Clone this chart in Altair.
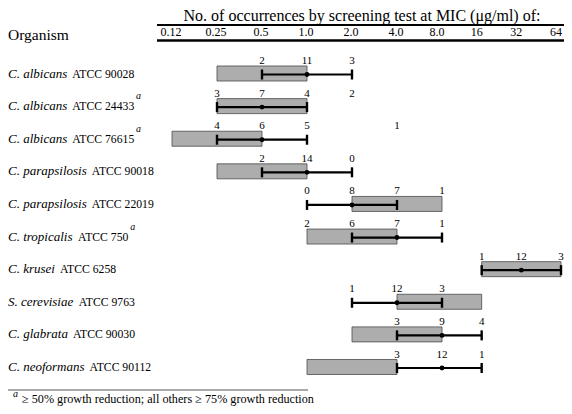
import altair as alt
import pandas as pd

# ---------------- data ----------------
mic_levels = [0.125, 0.25, 0.5, 1, 2, 4, 8, 16, 32, 64]
mic_labels = ["0.12", "0.25", "0.5", "1.0", "2.0", "4.0", "8.0", "16", "32", "64"]

species = ["C. albicans", "C. albicans", "C. albicans", "C. parapsilosis", "C. parapsilosis",
           "C. tropicalis", "C. krusei", "S. cerevisiae", "C. glabrata", "C. neoformans"]
strains = ["ATCC 90028", "ATCC 24433", "ATCC 76615", "ATCC 90018", "ATCC 22019",
           "ATCC 750", "ATCC 6258", "ATCC 9763", "ATCC 90030", "ATCC 90112"]
footnote_a = [False, True, True, False, False, True, False, False, False, False]

box_lo = [0.25, 0.25, 0.125, 0.25, 2, 1, 16, 4, 2, 1]
box_hi = [1, 1, 0.5, 1, 8, 4, 64, 16, 8, 4]
range_lo = [0.5, 0.25, 0.25, 0.5, 1, 2, 16, 2, 4, 4]
range_mode = [1, 0.5, 0.5, 1, 2, 4, 32, 4, 8, 8]
range_hi = [2, 1, 1, 2, 4, 8, 64, 8, 16, 16]

count_mic = [[0.5, 1, 2], [0.25, 0.5, 1, 2], [0.25, 0.5, 1, 4], [0.5, 1, 2], [1, 2, 4, 8],
             [1, 2, 4, 8], [16, 32, 64], [2, 4, 8], [4, 8, 16], [4, 8, 16]]
count_n = [[2, 11, 3], [3, 7, 4, 2], [4, 6, 5, 1], [2, 14, 0], [0, 8, 7, 1],
           [2, 6, 7, 1], [1, 12, 3], [1, 12, 3], [3, 9, 4], [3, 12, 1]]

title_text = "No. of occurrences by screening test at MIC (\u03bcg/ml) of:"
footnote_text = "\u2265 50% growth reduction; all others \u2265 75% growth reduction"

# ---------------- layout helpers ----------------
FONT = "Liberation Serif"
SP_SIZE = 13
ST_SIZE = 11.7
ITALIC = {' ': 250, '.': 250, 'C': 667, 'S': 500, 'a': 500, 'b': 500, 'c': 444, 'd': 500,
          'e': 444, 'f': 278, 'g': 500, 'h': 500, 'i': 278, 'k': 444, 'l': 278, 'm': 722,
          'n': 500, 'o': 500, 'p': 500, 'r': 389, 's': 389, 't': 278, 'u': 500, 'v': 444, 'y': 444}
ROMAN = {' ': 250, 'A': 722, 'T': 611, 'C': 667}


def width(s, table, size):
    return sum(table.get(ch, 500) for ch in s) * size / 1000.0


rows = list(range(len(species)))
lab = pd.DataFrame({"row": rows, "species": species, "strain": strains, "sup": footnote_a})
lab["strain_x"] = [width(s, ITALIC, SP_SIZE) + 5 for s in species]
lab["sup_x"] = [lab["strain_x"][i] + width(strains[i], ROMAN, ST_SIZE) + 0.5 for i in rows]
lab_sup = lab[lab["sup"]].copy()
lab_sup["a"] = "a"

boxes = pd.DataFrame({"row": rows, "lo": box_lo, "hi": box_hi})
boxes["y_top"] = boxes["row"] - 0.23
boxes["y_bot"] = boxes["row"] + 0.23

ranges = pd.DataFrame({"row": rows, "lo": range_lo, "mode": range_mode, "hi": range_hi})
ends = pd.DataFrame({"row": rows * 2, "mic": range_lo + range_hi})

counts = pd.DataFrame([
    {"row": r, "mic": m, "n": str(n)}
    for r in rows for m, n in zip(count_mic[r], count_n[r])
])

ticks = pd.DataFrame({"mic": mic_levels, "label": mic_labels})
ticks_lo = ticks[ticks["mic"] < 8]
ticks_hi = ticks[ticks["mic"] >= 8]
one = pd.DataFrame({"k": [0]})

xs = alt.Scale(type="log", domain=[0.125, 8, 64], range=[164, 434, 553], nice=False)
ys = alt.Scale(domain=[0, 9], range=[65.5, 359], nice=False, zero=False)

X = lambda f: alt.X(f, type="quantitative", scale=xs, axis=None)
Y = lambda f: alt.Y(f, type="quantitative", scale=ys, axis=None)

box_layer = alt.Chart(boxes).mark_rect(fill="#adadad", stroke="#4a4a4a", strokeWidth=0.8).encode(
    x=X("lo"), x2="hi", y=Y("y_top"), y2="y_bot")

range_layer = alt.Chart(ranges).mark_rule(color="black", strokeWidth=2.2, yOffset=1).encode(
    x=X("lo"), x2="hi", y=Y("row"))

end_layer = alt.Chart(ends).mark_tick(color="black", orient="vertical", size=10, thickness=2.4,
                                      yOffset=1, opacity=1).encode(x=X("mic"), y=Y("row"))

dot_layer = alt.Chart(ranges).mark_circle(color="black", size=24, opacity=1, yOffset=1).encode(
    x=X("mode"), y=Y("row"))

count_layer = alt.Chart(counts).mark_text(font=FONT, fontSize=11, dy=-12.5, color="black").encode(
    x=X("mic"), y=Y("row"), text="n:N")

species_layer = alt.Chart(lab).mark_text(font=FONT, fontSize=SP_SIZE, fontStyle="italic",
                                         align="left", baseline="middle", color="black").encode(
    x=alt.value(0), y=Y("row"), text="species:N")

strain_layer = alt.Chart(lab).mark_text(font=FONT, fontSize=ST_SIZE, align="left",
                                        baseline="middle", color="black").encode(
    x=alt.X("strain_x:Q", scale=None), y=Y("row"), text="strain:N")

sup_layer = alt.Chart(lab_sup).mark_text(font=FONT, fontSize=10, fontStyle="italic", align="left",
                                         baseline="middle", dy=-10, color="black").encode(
    x=alt.X("sup_x:Q", scale=None), y=Y("row"), text="a:N")

title_layer = alt.Chart(one).mark_text(text=title_text, font=FONT, fontSize=16, align="center",
                                       baseline="alphabetic", color="black").encode(
    x=alt.value(354), y=alt.value(12.5))

top_rule = alt.Chart(one).mark_rule(color="black", strokeWidth=1.8).encode(
    x=alt.value(149), x2=alt.value(556), y=alt.value(17))
bottom_rule = alt.Chart(one).mark_rule(color="black", strokeWidth=2.6).encode(
    x=alt.value(149), x2=alt.value(556), y=alt.value(32.5))

tick_layer_lo = alt.Chart(ticks_lo).mark_text(font=FONT, fontSize=12, baseline="alphabetic",
                                              dx=-1, color="black").encode(
    x=X("mic"), y=alt.value(27.5), text="label:N")
tick_layer_hi = alt.Chart(ticks_hi).mark_text(font=FONT, fontSize=12, baseline="alphabetic",
                                              dx=-5, color="black").encode(
    x=X("mic"), y=alt.value(27.5), text="label:N")

organism_layer = alt.Chart(one).mark_text(text="Organism", font=FONT, fontSize=15.5, align="left",
                                          baseline="alphabetic", color="black").encode(
    x=alt.value(0), y=alt.value(32))

foot_rule = alt.Chart(one).mark_rule(color="#555555", strokeWidth=1).encode(
    x=alt.value(0), x2=alt.value(300), y=alt.value(382))
foot_a = alt.Chart(one).mark_text(text="a", font=FONT, fontSize=10, fontStyle="italic",
                                  align="left", baseline="alphabetic", color="black").encode(
    x=alt.value(5), y=alt.value(388.5))
foot_text = alt.Chart(one).mark_text(text=footnote_text, font=FONT, fontSize=12.2, align="left",
                                     baseline="alphabetic", color="black").encode(
    x=alt.value(14), y=alt.value(394.5))

chart = alt.layer(
    box_layer, range_layer, end_layer, dot_layer, count_layer,
    species_layer, strain_layer, sup_layer,
    title_layer, top_rule, bottom_rule, tick_layer_lo, tick_layer_hi, organism_layer,
    foot_rule, foot_a, foot_text,
).properties(
    width=556, height=398, padding=0,
    autosize=alt.AutoSizeParams(type="none"),
    background="white",
).configure(font=FONT).configure_view(stroke=None)

chart.save("out.html", embed_options={"renderer": "svg", "actions": False})
